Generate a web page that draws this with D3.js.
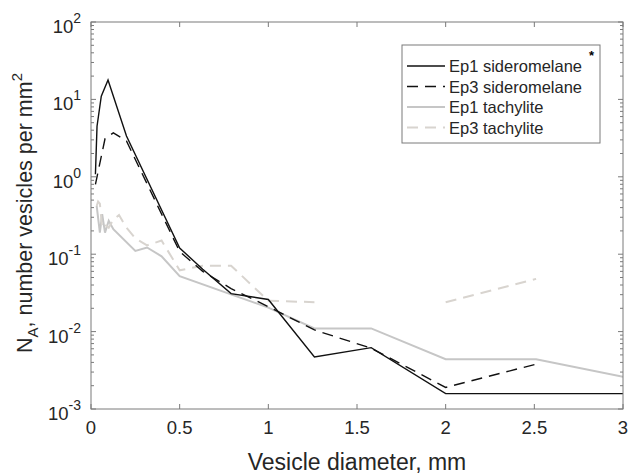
<!DOCTYPE html>
<html>
<head>
<meta charset="utf-8">
<script src="https://cdn.jsdelivr.net/npm/d3@7"></script>
<style>
  body { margin: 0; background: #fff; }
  svg { display: block; font-family: "Liberation Sans", Arial, sans-serif; }
</style>
</head>
<body>
<svg id="chart" width="630" height="474"></svg>
<script>
// vesicle diameter (mm) and number density N_A (per mm^2)
const ep1SideroD  = [0.025, 0.034, 0.058, 0.096, 0.2, 0.5, 0.63, 0.79, 1.0, 1.26, 1.58, 2.0, 3.0];
const ep1SideroNA = [1.08, 4.5, 11, 17.8, 3.36, 0.12, 0.064, 0.031, 0.026, 0.0047, 0.0062, 0.00158, 0.00158];

const ep3SideroD  = [0.025, 0.079, 0.126, 0.2, 0.5, 0.63, 0.79, 1.0, 1.26, 1.58, 2.0, 2.51];
const ep3SideroNA = [0.8, 3.1, 3.7, 2.9, 0.108, 0.06, 0.036, 0.021, 0.0105, 0.0061, 0.0019, 0.0038];

const ep1TachyD  = [0.032, 0.05, 0.063, 0.079, 0.1, 0.126, 0.25, 0.316, 0.398, 0.5, 1.0, 1.26, 1.58, 2.0, 2.51, 3.0];
const ep1TachyNA = [0.42, 0.19, 0.33, 0.19, 0.27, 0.21, 0.11, 0.122, 0.094, 0.052, 0.0204, 0.011, 0.011, 0.0044, 0.0044, 0.0026];

// null = no vesicles in that bin (gap in the curve)
const ep3TachyD  = [0.032, 0.04, 0.05, 0.063, 0.079, 0.1, 0.126, 0.158, 0.2, 0.25, 0.316, 0.398, 0.5, 0.63, 0.79, 1.0, 1.26, 1.58, 2.0, 2.51];
const ep3TachyNA = [0.42, 0.48, 0.45, 0.22, 0.24, 0.22, 0.28, 0.32, 0.22, 0.16, 0.13, 0.15, 0.062, 0.071, 0.071, 0.025, 0.024, null, 0.024, 0.048];

const seriesNames = ["Ep1 sideromelane", "Ep3 sideromelane", "Ep1 tachylite", "Ep3 tachylite"];
const xTicks = [0, 0.5, 1, 1.5, 2, 2.5, 3];
const yDecades = [-3, -2, -1, 0, 1, 2];

const svg = d3.select("#chart");
const margin = {top: 22, right: 7, bottom: 65, left: 91};
const width = 630 - margin.left - margin.right;
const height = 474 - margin.top - margin.bottom;

const plot = svg.append("g").attr("transform", `translate(${margin.left},${margin.top})`);

const x = d3.scaleLinear().domain([0, 3]).range([0, width]);
const y = d3.scaleLog().domain([1e-3, 1e2]).range([height, 0]);

const axisColor = "#7a7a7a";
const textColor = "#262626";

// series
const styles = [
  {d: ep1SideroD, v: ep1SideroNA, color: "#111", w: 1.4, dash: null},
  {d: ep3SideroD, v: ep3SideroNA, color: "#111", w: 1.4, dash: "11,7"},
  {d: ep1TachyD, v: ep1TachyNA, color: "#c6c6c6", w: 2, dash: null},
  {d: ep3TachyD, v: ep3TachyNA, color: "#d8d4cf", w: 2, dash: "11,7"}
];

svg.append("clipPath").attr("id", "clip")
  .append("rect").attr("width", width).attr("height", height);

const line = d3.line()
  .defined(d => d[1] != null)
  .x(d => x(d[0]))
  .y(d => y(d[1]));

const layer = plot.append("g").attr("clip-path", "url(#clip)");
// draw gray first so black sits on top
[2, 3, 0, 1].forEach(i => {
  const s = styles[i];
  layer.append("path")
    .datum(d3.zip(s.d, s.v))
    .attr("fill", "none")
    .attr("stroke", s.color)
    .attr("stroke-width", s.w)
    .attr("stroke-dasharray", s.dash)
    .attr("d", line);
});

// axes box and ticks (MATLAB style: inward ticks on all sides)
const axes = plot.append("g").attr("stroke", axisColor).attr("stroke-width", 1).attr("fill", "none");
axes.append("rect").attr("width", width).attr("height", height);

xTicks.forEach(t => {
  axes.append("line").attr("x1", x(t)).attr("x2", x(t)).attr("y1", height).attr("y2", height - 5);
  axes.append("line").attr("x1", x(t)).attr("x2", x(t)).attr("y1", 0).attr("y2", 5);
});

yDecades.forEach(e => {
  const v = Math.pow(10, e);
  axes.append("line").attr("x1", 0).attr("x2", 5).attr("y1", y(v)).attr("y2", y(v));
  axes.append("line").attr("x1", width).attr("x2", width - 5).attr("y1", y(v)).attr("y2", y(v));
  if (e < 2) {
    d3.range(2, 10).forEach(m => {
      const yy = y(m * v);
      axes.append("line").attr("x1", 0).attr("x2", 3).attr("y1", yy).attr("y2", yy);
      axes.append("line").attr("x1", width).attr("x2", width - 3).attr("y1", yy).attr("y2", yy);
    });
  }
});

// tick labels
plot.append("g").selectAll("text").data(xTicks).join("text")
  .attr("x", d => x(d))
  .attr("y", height + 25)
  .attr("text-anchor", "middle")
  .attr("font-size", 18.5)
  .attr("fill", textColor)
  .text(d => d3.format("~g")(d));

const yl = plot.append("g").selectAll("text").data(yDecades).join("text")
  .attr("x", -10)
  .attr("y", d => y(Math.pow(10, d)) + 11)
  .attr("text-anchor", "end")
  .attr("font-size", 18.5)
  .attr("fill", textColor);
yl.append("tspan").text("10");
yl.append("tspan").attr("dy", -10).attr("font-size", 14).text(d => d < 0 ? "-" + (-d) : d);

// axis labels
svg.append("text")
  .attr("x", margin.left + width / 2)
  .attr("y", 470)
  .attr("text-anchor", "middle")
  .attr("font-size", 23)
  .attr("fill", textColor)
  .text("Vesicle diameter, mm");

const ylab = svg.append("text")
  .attr("transform", "translate(32,353) rotate(-90)")
  .attr("text-anchor", "start")
  .attr("font-size", 21.5)
  .attr("fill", textColor);
ylab.append("tspan").text("N");
ylab.append("tspan").attr("dy", 6).attr("font-size", 15).text("A");
ylab.append("tspan").attr("dy", -6).text(", number vesicles per mm");
ylab.append("tspan").attr("dy", -10).attr("font-size", 15).text("2");

// legend
const lg = svg.append("g").attr("transform", "translate(402,45)");
lg.append("rect").attr("width", 198).attr("height", 98)
  .attr("fill", "#fff").attr("stroke", axisColor).attr("stroke-width", 1);
seriesNames.forEach((name, i) => {
  const s = styles[i];
  const yy = 21 + i * 20.5;
  lg.append("line").attr("x1", 5).attr("x2", 43).attr("y1", yy).attr("y2", yy)
    .attr("stroke", s.color).attr("stroke-width", s.w).attr("stroke-dasharray", s.dash);
  lg.append("text").attr("x", 47).attr("y", yy + 6)
    .attr("font-size", 16.5).attr("fill", textColor).text(name);
});
lg.append("text").attr("x", 187).attr("y", 15).attr("font-size", 13)
  .attr("font-weight", "bold").attr("fill", "#000").text("*");
</script>
</body>
</html>
